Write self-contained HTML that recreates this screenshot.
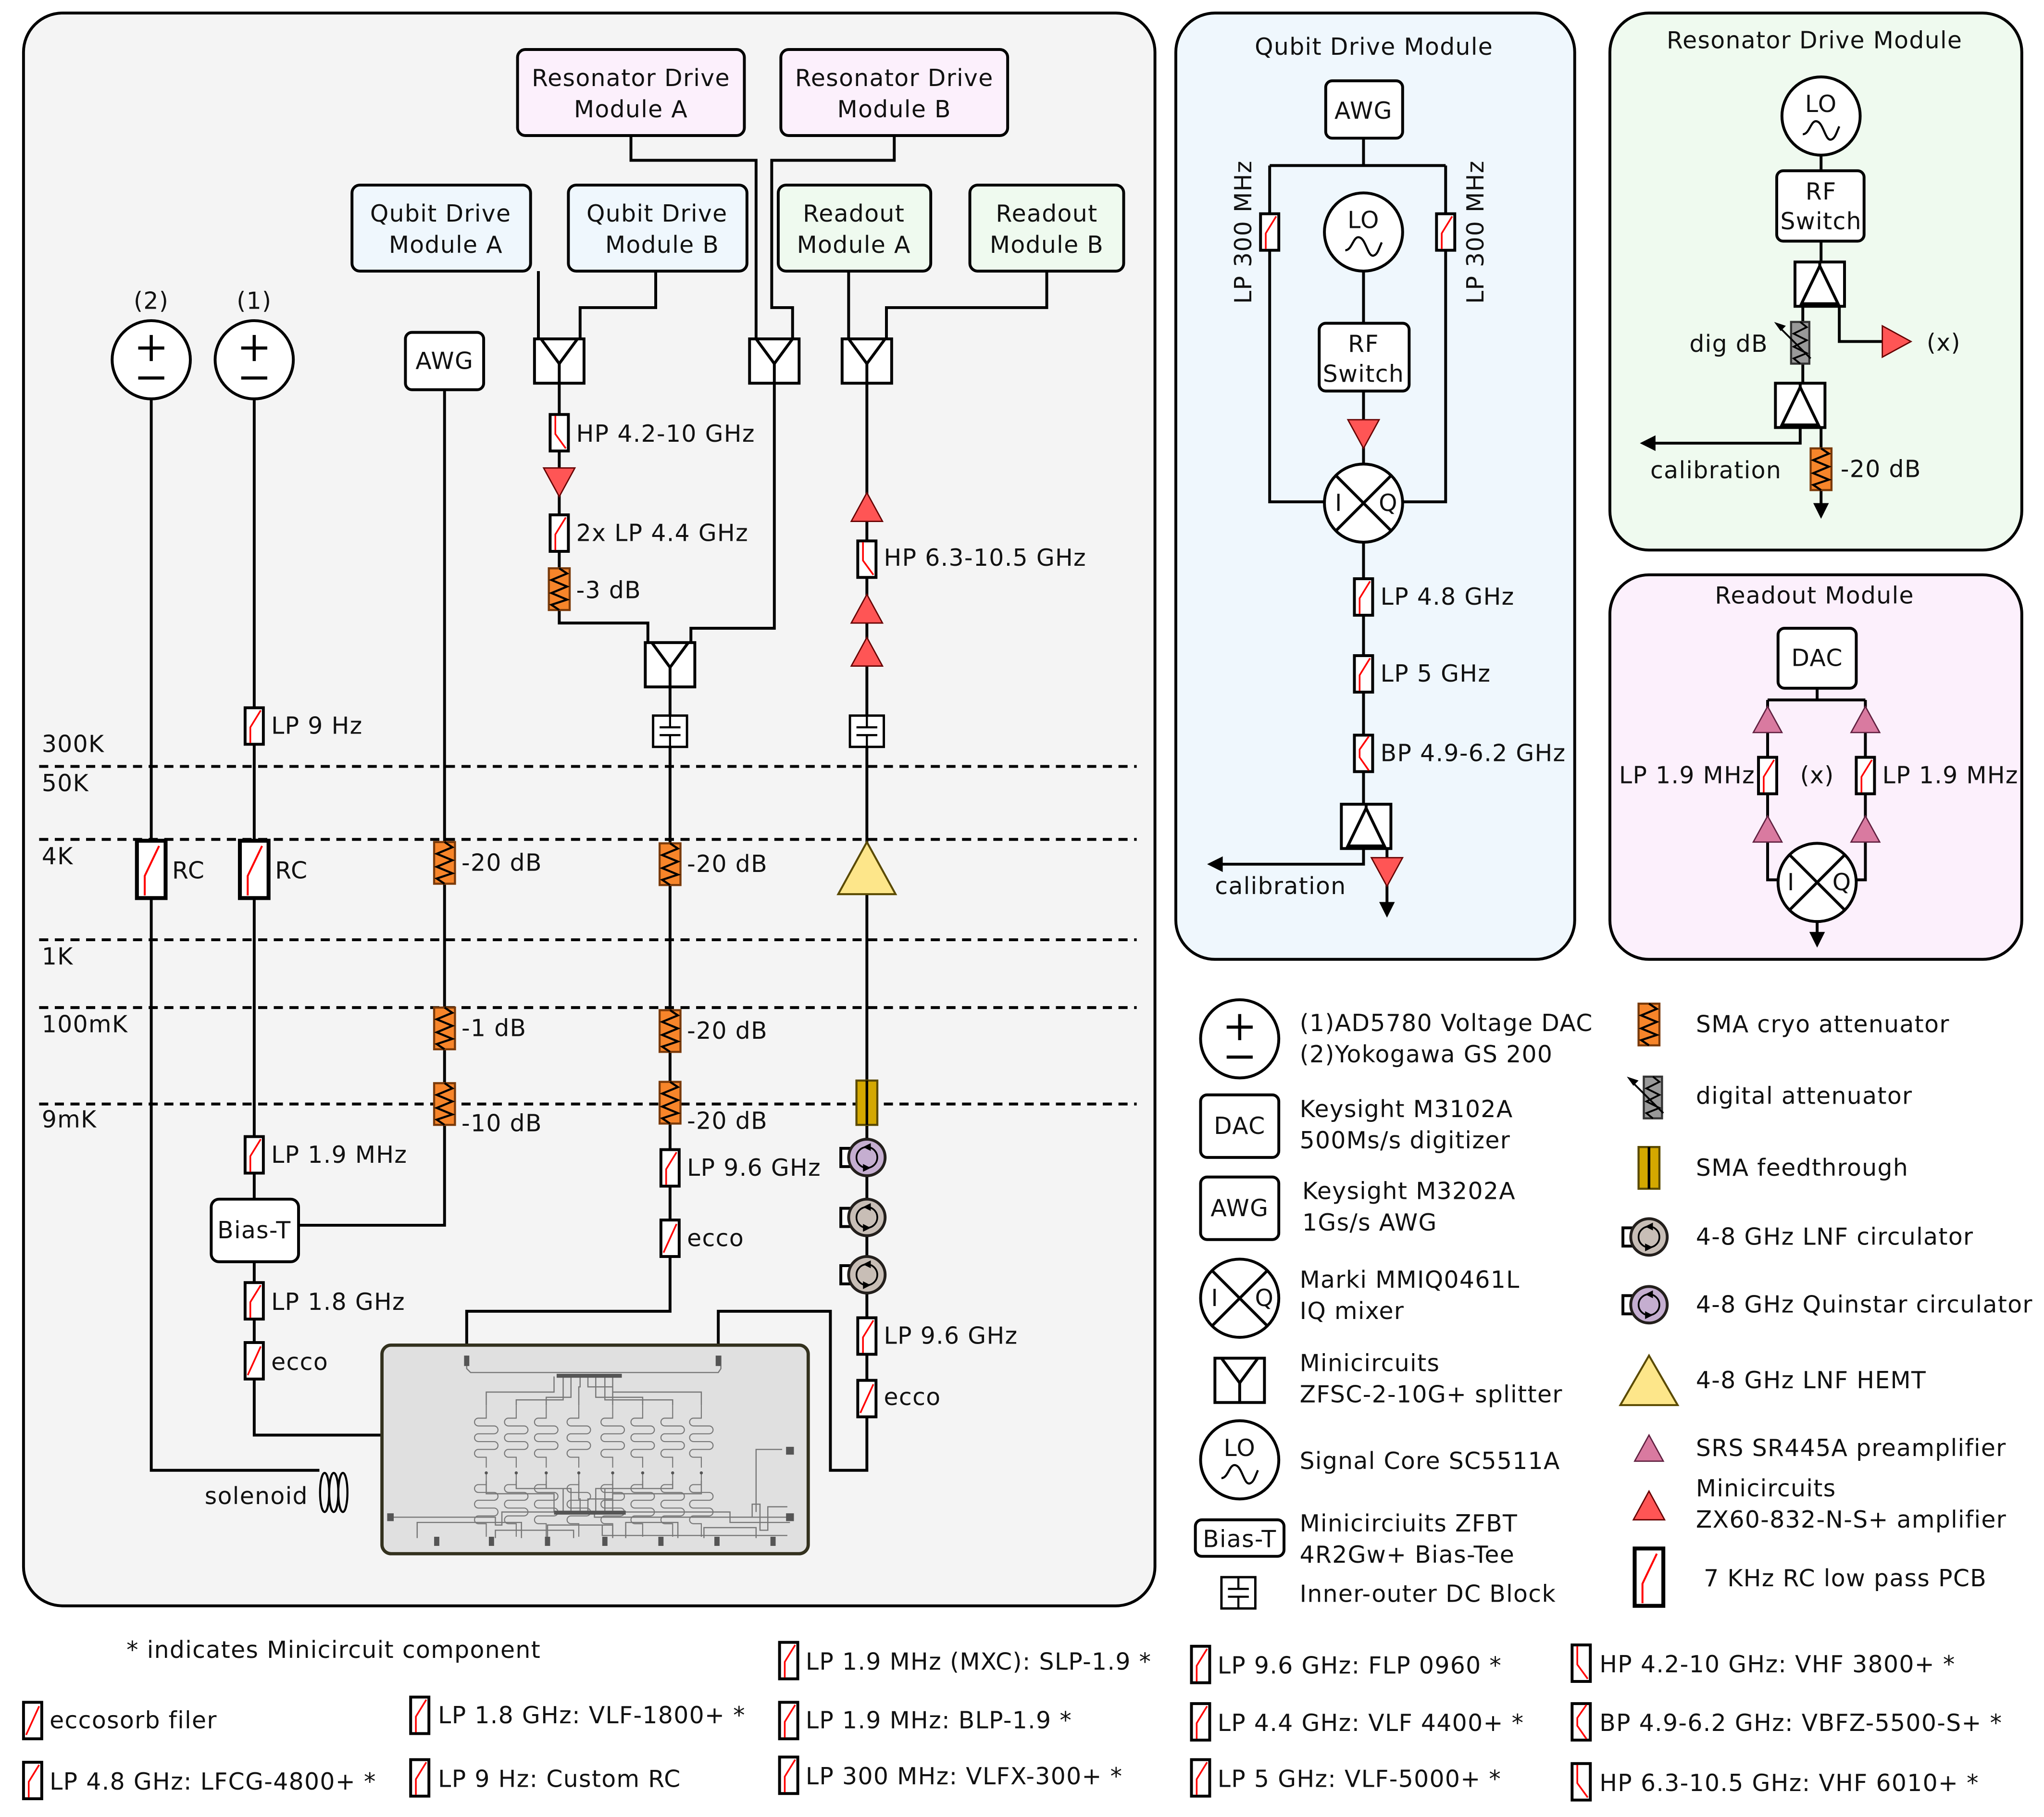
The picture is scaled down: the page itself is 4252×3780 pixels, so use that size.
<!DOCTYPE html>
<html><head><meta charset="utf-8"><style>html,body{margin:0;padding:0;background:#fff}svg{display:block}text{font-family:"DejaVu Sans","Liberation Sans",sans-serif;font-size:18px;letter-spacing:0.5px;fill:#111}</style></head>
<body>
<svg xmlns="http://www.w3.org/2000/svg" xmlns:xlink="http://www.w3.org/1999/xlink" width="4252" height="3780" viewBox="0 0 1568 1394">
<defs>
<g id="lp"><rect x="-7" y="-14" width="14" height="28" fill="#fff" stroke="#000" stroke-width="2.2"/><polyline points="-3,13 -3,1 5,-12" fill="none" stroke="#f00" stroke-width="1.3"/></g>
<g id="hp"><rect x="-7" y="-14" width="14" height="28" fill="#fff" stroke="#000" stroke-width="2.2"/><polyline points="-3,-13 -3,1 5,12" fill="none" stroke="#f00" stroke-width="1.3"/></g>
<g id="bp"><rect x="-7" y="-14" width="14" height="28" fill="#fff" stroke="#000" stroke-width="2.2"/><polyline points="4,-13 -3,-3 -3,3 4,13" fill="none" stroke="#f00" stroke-width="1.3"/></g>
<g id="ec"><rect x="-7" y="-14" width="14" height="28" fill="#fff" stroke="#000" stroke-width="2.2"/><line x1="-5" y1="11" x2="5" y2="-11" stroke="#f00" stroke-width="1.3"/></g>
<g id="att"><rect x="-8" y="-16" width="16" height="32" fill="#f7852a" stroke="#7a3a0a" stroke-width="1.6"/><polyline points="0,-16 6,-12 -6,-7 6,-2 -6,3 6,8 -6,12 0,16" fill="none" stroke="#000" stroke-width="1.6"/></g>
<g id="dat"><rect x="-7" y="-16" width="14" height="32" fill="#999" stroke="#333" stroke-width="1.6"/><polyline points="0,-16 5,-12 -5,-7 5,-2 -5,3 5,8 -5,12 0,16" fill="none" stroke="#000" stroke-width="1.4"/><line x1="8" y1="12" x2="-17" y2="-13" stroke="#000" stroke-width="1.4"/><polygon points="-20,-16 -11,-13 -15,-9" fill="#000"/></g>
<g id="sp"><rect x="-19" y="-17" width="38" height="34" fill="#fff" stroke="#000" stroke-width="2.2"/><polyline points="-14,-17 0,2 14,-17" fill="none" stroke="#000" stroke-width="2.2"/><line x1="0" y1="2" x2="0" y2="17" stroke="#000" stroke-width="2.2"/></g>
<g id="spu"><rect x="-19" y="-17" width="38" height="34" fill="#fff" stroke="#000" stroke-width="2.2"/><polygon points="0,-14 -14,15 14,15" fill="none" stroke="#000" stroke-width="2.2"/><line x1="0" y1="-17" x2="0" y2="-14" stroke="#000" stroke-width="2.2"/></g>
<g id="ad"><polygon points="-12,-11 12,-11 0,11" fill="#ff5555" stroke="#600" stroke-width="1"/></g>
<g id="au"><polygon points="-12,11 12,11 0,-11" fill="#ff5555" stroke="#600" stroke-width="1"/></g>
<g id="ar"><polygon points="-11,-12 -11,12 11,0" fill="#ff5555" stroke="#600" stroke-width="1"/></g>
<g id="pre"><polygon points="-11,10 11,10 0,-10" fill="#d97aa0" stroke="#602040" stroke-width="1"/></g>
<g id="dcb"><rect x="-13" y="-12" width="26" height="24" fill="#fff" stroke="#000" stroke-width="1.8"/><path d="M0,-12V-3M-8,-3H8M-8,3H8M0,3V12" stroke="#000" stroke-width="1.6" fill="none"/></g>
<g id="circ"><rect x="-20" y="-7" width="8" height="14" fill="#fff" stroke="#000" stroke-width="2.2"/><circle r="14" stroke="#231f1c" stroke-width="2.2"/><path d="M0,-8A8,8 0 1 0 0,8M0,8A8,8 0 0 0 0,-8" fill="none" stroke="#000" stroke-width="1.3"/><polygon points="3,-11 -3,-8 3,-5" fill="#000"/><polygon points="-3,11 3,8 -3,5" fill="#000"/></g>
<g id="rc"><rect x="-11" y="-22" width="22" height="44" fill="#fff" stroke="#000" stroke-width="3"/><polyline points="-5,20 -5,5 6,-18" fill="none" stroke="#f00" stroke-width="1.5"/></g>
<g id="mix"><circle r="30" fill="#fff" stroke="#000" stroke-width="2.2"/><line x1="-21" y1="-21" x2="21" y2="21" stroke="#000" stroke-width="2.2"/><line x1="21" y1="-21" x2="-21" y2="21" stroke="#000" stroke-width="2.2"/></g>
<g id="lo"><circle r="30" fill="#fff" stroke="#000" stroke-width="2.2"/><path d="M-14,14 C-9,14 -8,4 -4,4 C2,4 3,20 8,18 C11,17 12,12 14,8" fill="none" stroke="#000" stroke-width="1.6"/></g>
<g id="src"><circle r="30" fill="#fff" stroke="#000" stroke-width="2.2"/><path d="M-10,-9H10M0,-19V1M-10,14H10" stroke="#000" stroke-width="2.4"/></g>
<g id="mea"><path d="M0,0 v10 h-6 a3,3 0 0 0 0,6 h12 a3,3 0 0 1 0,6 h-12 a3,3 0 0 0 0,6 h12 a3,3 0 0 1 0,6 h-12 a3,3 0 0 0 0,6 h6 v8 M0,53 v8 h-6 a3,3 0 0 0 0,6 h12 a3,3 0 0 1 0,6 h-12 a3,3 0 0 0 0,6 h12 a3,3 0 0 1 0,6 h-12 a3,3 0 0 0 0,6 h6 v10" fill="none" stroke="#777" stroke-width="0.8"/><circle cx="0" cy="52" r="1.2" fill="#555"/></g>
</defs>

<rect x="18" y="10" width="868" height="1222" rx="30" fill="#f4f4f4" stroke="#000" stroke-width="2.2"/>
<rect x="902" y="10" width="306" height="726" rx="30" fill="#eff7fd" stroke="#000" stroke-width="2.2"/>
<rect x="1235" y="10" width="316" height="412" rx="30" fill="#effaef" stroke="#000" stroke-width="2.2"/>
<rect x="1235" y="441" width="316" height="295" rx="30" fill="#fcf0fc" stroke="#000" stroke-width="2.2"/>

<g stroke="#000" stroke-width="2.2">
<rect x="397" y="38" width="174" height="66" rx="6" fill="#fcf0fc"/>
<rect x="599" y="38" width="174" height="66" rx="6" fill="#fcf0fc"/>
<rect x="270" y="142" width="137" height="66" rx="6" fill="#eff7fd"/>
<rect x="436" y="142" width="137" height="66" rx="6" fill="#eff7fd"/>
<rect x="597" y="142" width="117" height="66" rx="6" fill="#effaef"/>
<rect x="744" y="142" width="118" height="66" rx="6" fill="#effaef"/>
</g>
<g text-anchor="middle">
<text x="484" y="66">Resonator Drive</text><text x="484" y="90">Module A</text>
<text x="686" y="66">Resonator Drive</text><text x="686" y="90">Module B</text>
<text x="338" y="170">Qubit Drive</text><text x="342" y="194">Module A</text>
<text x="504" y="170">Qubit Drive</text><text x="508" y="194">Module B</text>
<text x="655" y="170">Readout</text><text x="655" y="194">Module A</text>
<text x="803" y="170">Readout</text><text x="803" y="194">Module B</text>
</g>

<g fill="none" stroke="#000" stroke-width="2.2">
<path d="M413,208V260M503,208V236H445V260"/>
<path d="M484,104V123H580V236H580V260"/>
<path d="M686,104V123H592V236H608V260"/>
<path d="M651,208V260M803,208V236H680V260"/>
<path d="M429,294V478H497V494"/>
<path d="M594,294V482H530V494"/>
<path d="M514,527V1006H358V1032"/>
<path d="M665,294V1128H637V1006H551V1032"/>
<path d="M341,299V940H229"/>
<path d="M195,306V920M195,968V1101H293"/>
<path d="M116,306V1128H245"/>
</g>
<g stroke="#000" stroke-width="2.2" stroke-dasharray="7,5">
<line x1="30" y1="588" x2="872" y2="588"/><line x1="30" y1="644" x2="872" y2="644"/>
<line x1="30" y1="721" x2="872" y2="721"/><line x1="30" y1="773" x2="872" y2="773"/>
<line x1="30" y1="847" x2="872" y2="847"/>
</g>
<text x="32" y="577">300K</text><text x="32" y="607">50K</text><text x="32" y="663">4K</text><text x="32" y="740">1K</text><text x="32" y="792">100mK</text><text x="32" y="865">9mK</text>

<use href="#src" x="116" y="276"/><use href="#src" x="195" y="276"/>
<text x="116" y="237" text-anchor="middle">(2)</text><text x="195" y="237" text-anchor="middle">(1)</text>
<rect x="311" y="255" width="60" height="44" rx="5" fill="#fff" stroke="#000" stroke-width="2.2"/><text x="341" y="283" text-anchor="middle">AWG</text>

<use href="#sp" x="429" y="277"/><use href="#sp" x="594" y="277"/><use href="#sp" x="665" y="277"/><use href="#sp" x="514" y="510"/>

<use href="#hp" x="429" y="332"/><text x="442" y="339">HP 4.2-10 GHz</text>
<use href="#ad" x="429" y="370"/>
<use href="#lp" x="429" y="409"/><text x="442" y="415">2x LP 4.4 GHz</text>
<use href="#att" x="429" y="452"/><text x="442" y="459">-3 dB</text>
<use href="#dcb" x="514" y="561"/>
<use href="#att" x="514" y="663"/><text x="527" y="669">-20 dB</text>
<use href="#att" x="514" y="791"/><text x="527" y="797">-20 dB</text>
<use href="#att" x="514" y="846"/><text x="527" y="866">-20 dB</text>
<use href="#lp" x="514" y="896"/><text x="527" y="902">LP 9.6 GHz</text>
<use href="#ec" x="514" y="950"/><text x="527" y="956">ecco</text>

<use href="#au" x="665" y="389"/>
<use href="#hp" x="665" y="429"/><text x="678" y="434">HP 6.3-10.5 GHz</text>
<use href="#au" x="665" y="467"/><use href="#au" x="665" y="500"/>
<use href="#dcb" x="665" y="561"/>
<polygon points="665,646 643,686 687,686" fill="#fde68a" stroke="#5a4a00" stroke-width="1.5"/>
<rect x="657" y="829" width="16" height="34" fill="#d4a800" stroke="#5a4a00" stroke-width="1.6"/><line x1="665" y1="829" x2="665" y2="863" stroke="#000" stroke-width="2"/>
<use href="#circ" x="665" y="888" fill="#c5aed0"/>
<use href="#circ" x="665" y="934" fill="#c8beb6"/>
<use href="#circ" x="665" y="978" fill="#c8beb6"/>
<use href="#lp" x="665" y="1025"/><text x="678" y="1031">LP 9.6 GHz</text>
<use href="#ec" x="665" y="1073"/><text x="678" y="1078">ecco</text>

<use href="#att" x="341" y="662"/><text x="354" y="668">-20 dB</text>
<use href="#att" x="341" y="789"/><text x="354" y="795">-1 dB</text>
<use href="#att" x="341" y="847"/><text x="354" y="868">-10 dB</text>

<use href="#lp" x="195" y="557"/><text x="208" y="563">LP 9 Hz</text>
<use href="#rc" x="195" y="667"/><text x="211" y="674">RC</text>
<use href="#rc" x="116" y="667"/><text x="132" y="674">RC</text>
<use href="#lp" x="195" y="886"/><text x="208" y="892">LP 1.9 MHz</text>
<rect x="162" y="920" width="67" height="48" rx="6" fill="#fff" stroke="#000" stroke-width="2.2"/><text x="195" y="950" text-anchor="middle">Bias-T</text>
<use href="#lp" x="195" y="998"/><text x="208" y="1005">LP 1.8 GHz</text>
<use href="#ec" x="195" y="1044"/><text x="208" y="1051">ecco</text>
<g fill="none" stroke="#000" stroke-width="1.6"><ellipse cx="249" cy="1145" rx="3.5" ry="15"/><ellipse cx="256" cy="1145" rx="3.5" ry="15"/><ellipse cx="263" cy="1145" rx="3.5" ry="15"/></g>
<text x="157" y="1154">solenoid</text>

<rect x="293" y="1032" width="327" height="160" rx="7" fill="#e0e0e0" stroke="#33311e" stroke-width="2.5"/>
<g fill="none" stroke="#777" stroke-width="0.9">
<path d="M358,1040V1050L361,1053H551L553,1050V1040"/>
<path d="M300,1164H380V1170H385V1160H456V1164H604M456,1160H560V1168H606"/>
<path d="M456,1164H577V1154H583V1174H589V1156H604M462,1170V1178H604M600,1112H580V1160"/>
<path d="M320,1180V1168H400V1180M380,1180V1174H440V1180M420,1180V1170H470V1180M480,1180V1168H520V1180M540,1180V1172H580V1180"/>
<path d="M373,1078V1068H425V1056M396,1078V1074H432V1056M419,1078V1072H438V1056M444,1078V1064H445V1056M470,1078V1064H451V1056M493,1078V1072H457V1056M516,1078V1074H464V1056M538,1078V1068H470V1056"/>
<path d="M373,1136V1146H425V1160M396,1136V1142H432V1160M419,1136V1142H438V1160M444,1136V1150H445V1160M470,1136V1150H451V1160M493,1136V1142H457V1160M516,1136V1142H464V1160M538,1136V1146H470V1160"/>
</g>
<use href="#mea" x="373" y="1078"/><use href="#mea" x="396" y="1078"/><use href="#mea" x="419" y="1078"/><use href="#mea" x="444" y="1078"/><use href="#mea" x="470" y="1078"/><use href="#mea" x="493" y="1078"/><use href="#mea" x="516" y="1078"/><use href="#mea" x="538" y="1078"/>
<g fill="#555"><rect x="427" y="1054" width="50" height="3"/><rect x="425" y="1159" width="55" height="3"/><rect x="356" y="1040" width="4" height="8"/><rect x="549" y="1040" width="4" height="8"/><rect x="297" y="1161" width="5" height="6"/><rect x="603" y="1110" width="6" height="6"/><rect x="603" y="1161" width="6" height="6"/>
<rect x="333" y="1179" width="4" height="7"/><rect x="375" y="1179" width="4" height="7"/><rect x="418" y="1179" width="4" height="7"/><rect x="462" y="1179" width="4" height="7"/><rect x="505" y="1179" width="4" height="7"/><rect x="548" y="1179" width="4" height="7"/><rect x="591" y="1179" width="4" height="7"/></g>

<text x="1054" y="42" text-anchor="middle">Qubit Drive Module</text>
<g fill="none" stroke="#000" stroke-width="2.2">
<path d="M1046,106V127M974,127H1109M974,127V385H1016M1109,127V385H1076"/>
<path d="M1046,208V248M1046,300V356M1046,416V617M1046,651V663H930M1064,651V700"/>
</g>
<polygon points="926,663 938,657 938,669" fill="#000"/><polygon points="1064,704 1058,692 1070,692" fill="#000"/>
<rect x="1017" y="62" width="59" height="44" rx="5" fill="#fff" stroke="#000" stroke-width="2.2"/><text x="1046" y="91" text-anchor="middle">AWG</text>
<use href="#lp" x="974" y="178"/><use href="#lp" x="1109" y="178"/>
<text transform="translate(960,178) rotate(-90)" text-anchor="middle">LP 300 MHz</text>
<text transform="translate(1138,178) rotate(-90)" text-anchor="middle">LP 300 MHz</text>
<use href="#lo" x="1046" y="178"/><text x="1046" y="175" text-anchor="middle">LO</text>
<rect x="1012" y="248" width="69" height="52" rx="5" fill="#fff" stroke="#000" stroke-width="2.2"/><text x="1046" y="270" text-anchor="middle">RF</text><text x="1046" y="293" text-anchor="middle">Switch</text>
<use href="#ad" x="1046" y="333"/>
<use href="#mix" x="1046" y="386"/><text x="1027" y="392" text-anchor="middle">I</text><text x="1065" y="392" text-anchor="middle">Q</text>
<use href="#lp" x="1046" y="458"/><text x="1059" y="464">LP 4.8 GHz</text>
<use href="#lp" x="1046" y="517"/><text x="1059" y="523">LP 5 GHz</text>
<use href="#bp" x="1046" y="578"/><text x="1059" y="584">BP 4.9-6.2 GHz</text>
<use href="#spu" x="1048" y="634"/>
<use href="#ad" x="1064" y="669"/>
<text x="932" y="686">calibration</text>

<text x="1392" y="37" text-anchor="middle">Resonator Drive Module</text>
<g fill="none" stroke="#000" stroke-width="2.2">
<path d="M1397,119V131M1397,185V201M1411,235V262H1444M1383,235V294M1381,328V340H1262M1397,328V394"/>
</g>
<polygon points="1258,340 1270,334 1270,346" fill="#000"/><polygon points="1397,398 1391,386 1403,386" fill="#000"/>
<use href="#lo" x="1397" y="89"/><text x="1397" y="86" text-anchor="middle">LO</text>
<rect x="1363" y="131" width="67" height="54" rx="5" fill="#fff" stroke="#000" stroke-width="2.2"/><text x="1397" y="153" text-anchor="middle">RF</text><text x="1397" y="176" text-anchor="middle">Switch</text>
<use href="#spu" x="1396" y="218"/>
<use href="#dat" x="1381" y="263"/><text x="1296" y="270">dig dB</text>
<use href="#ar" x="1455" y="262"/><text x="1478" y="269">(x)</text>
<use href="#spu" x="1381" y="311"/>
<use href="#att" x="1397" y="360"/><text x="1412" y="366">-20 dB</text>
<text x="1266" y="367">calibration</text>

<text x="1392" y="463" text-anchor="middle">Readout Module</text>
<g fill="none" stroke="#000" stroke-width="2.2">
<path d="M1394,528V537M1356,537H1431M1356,537V675H1364M1431,537V675H1424M1394,707V722"/>
</g>
<polygon points="1394,727 1388,715 1400,715" fill="#000"/>
<rect x="1364" y="482" width="60" height="46" rx="5" fill="#fff" stroke="#000" stroke-width="2.2"/><text x="1394" y="511" text-anchor="middle">DAC</text>
<use href="#pre" x="1356" y="552"/><use href="#pre" x="1431" y="552"/>
<use href="#lp" x="1356" y="595"/><use href="#lp" x="1431" y="595"/>
<use href="#pre" x="1356" y="636"/><use href="#pre" x="1431" y="636"/>
<use href="#mix" x="1394" y="677"/><text x="1374" y="683" text-anchor="middle">I</text><text x="1413" y="683" text-anchor="middle">Q</text>
<text x="1394" y="601" text-anchor="middle">(x)</text>
<text x="1242" y="601">LP 1.9 MHz</text><text x="1444" y="601">LP 1.9 MHz</text>

<use href="#src" x="951" y="797"/><text x="997" y="791">(1)AD5780 Voltage DAC</text><text x="997" y="815">(2)Yokogawa GS 200</text>
<rect x="921" y="840" width="60" height="48" rx="5" fill="#fff" stroke="#000" stroke-width="2.2"/><text x="951" y="870" text-anchor="middle">DAC</text><text x="997" y="857">Keysight M3102A</text><text x="997" y="881">500Ms/s digitizer</text>
<rect x="921" y="903" width="60" height="48" rx="5" fill="#fff" stroke="#000" stroke-width="2.2"/><text x="951" y="933" text-anchor="middle">AWG</text><text x="999" y="920">Keysight M3202A</text><text x="999" y="944"> 1Gs/s AWG</text>
<use href="#mix" x="951" y="996"/><text x="932" y="1002" text-anchor="middle">I</text><text x="970" y="1002" text-anchor="middle">Q</text><text x="997" y="988">Marki MMIQ0461L</text><text x="997" y="1012">IQ mixer</text>
<use href="#sp" x="951" y="1059"/><text x="997" y="1052">Minicircuits</text><text x="997" y="1076">ZFSC-2-10G+ splitter</text>
<use href="#lo" x="951" y="1120"/><text x="951" y="1117" text-anchor="middle">LO</text><text x="997" y="1127">Signal Core SC5511A</text>
<rect x="917" y="1166" width="68" height="28" rx="5" fill="#fff" stroke="#000" stroke-width="2.2"/><text x="951" y="1187" text-anchor="middle">Bias-T</text><text x="997" y="1175">Minicirciuits ZFBT</text><text x="997" y="1199">4R2Gw+ Bias-Tee</text>
<use href="#dcb" x="950" y="1222"/><text x="997" y="1229">Inner-outer DC Block</text>

<use href="#att" x="1265" y="786"/><text x="1301" y="792">SMA cryo attenuator</text>
<use href="#dat" x="1268" y="842"/><text x="1301" y="847">digital attenuator</text>
<rect x="1257" y="880" width="16" height="32" fill="#d4a800" stroke="#5a4a00" stroke-width="1.6"/><line x1="1265" y1="880" x2="1265" y2="912" stroke="#000" stroke-width="2"/><text x="1301" y="902">SMA feedthrough</text>
<use href="#circ" x="1265" y="949" fill="#c8beb6"/><text x="1301" y="955">4-8 GHz LNF circulator</text>
<use href="#circ" x="1265" y="1001" fill="#c5aed0"/><text x="1301" y="1007">4-8 GHz Quinstar circulator</text>
<polygon points="1265,1040 1243,1078 1287,1078" fill="#fde68a" stroke="#5a4a00" stroke-width="1.5"/><text x="1301" y="1065">4-8 GHz LNF HEMT</text>
<use href="#pre" x="1265" y="1111"/><text x="1301" y="1117">SRS SR445A preamplifier</text>
<use href="#au" x="1265" y="1155"/><text x="1301" y="1148">Minicircuits</text><text x="1301" y="1172">ZX60-832-N-S+ amplifier</text>
<use href="#rc" x="1265" y="1210"/><text x="1307" y="1217">7 KHz RC low pass PCB</text>

<text x="97" y="1272">* indicates Minicircuit component</text>
<use href="#ec" x="25" y="1320"/><text x="38" y="1326">eccosorb filer</text>
<use href="#lp" x="25" y="1366"/><text x="38" y="1373">LP 4.8 GHz: LFCG-4800+ *</text>
<use href="#lp" x="322" y="1316"/><text x="336" y="1322">LP 1.8 GHz: VLF-1800+ *</text>
<use href="#lp" x="322" y="1364"/><text x="336" y="1371">LP 9 Hz: Custom RC</text>
<use href="#lp" x="605" y="1274"/><text x="618" y="1281">LP 1.9 MHz (MXC): SLP-1.9 *</text>
<use href="#lp" x="605" y="1320"/><text x="618" y="1326">LP 1.9 MHz: BLP-1.9 *</text>
<use href="#lp" x="605" y="1362"/><text x="618" y="1369">LP 300 MHz: VLFX-300+ *</text>
<use href="#lp" x="921" y="1277"/><text x="934" y="1284">LP 9.6 GHz: FLP 0960 *</text>
<use href="#lp" x="921" y="1321"/><text x="934" y="1328">LP 4.4 GHz: VLF 4400+ *</text>
<use href="#lp" x="921" y="1364"/><text x="934" y="1371">LP 5 GHz: VLF-5000+ *</text>
<use href="#hp" x="1213" y="1276"/><text x="1227" y="1283">HP 4.2-10 GHz: VHF 3800+ *</text>
<use href="#bp" x="1213" y="1321"/><text x="1227" y="1328">BP 4.9-6.2 GHz: VBFZ-5500-S+ *</text>
<use href="#hp" x="1213" y="1367"/><text x="1227" y="1374">HP 6.3-10.5 GHz: VHF 6010+ *</text>
</svg>
</body></html>
